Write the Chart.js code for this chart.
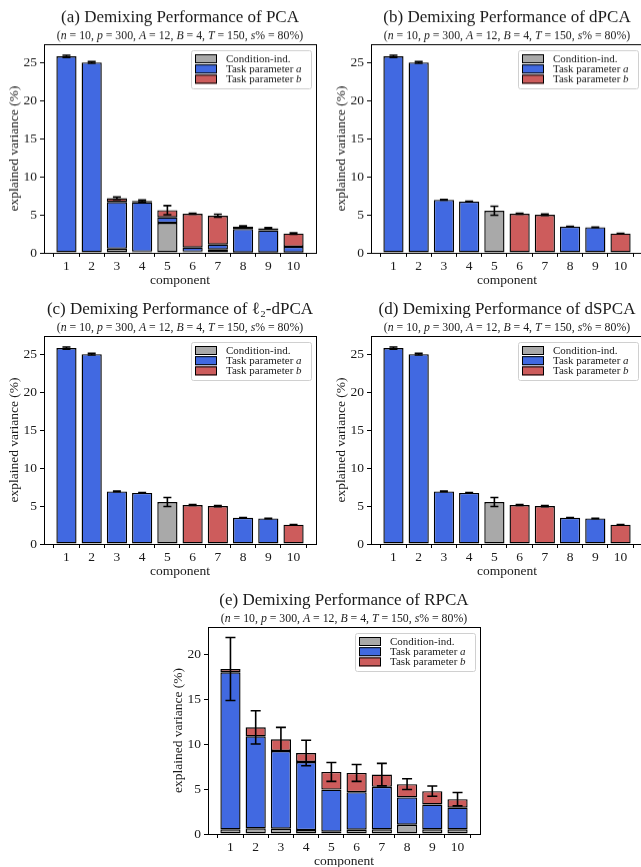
<!DOCTYPE html>
<html>
<head>
<meta charset="utf-8">
<script src="https://cdn.jsdelivr.net/npm/chart.js@4/dist/chart.umd.min.js"></script>
<style>
  html, body { margin: 0; padding: 0; background: #fff; }
  body { width: 641px; height: 867px; overflow: hidden; position: relative; }
  canvas { position: absolute; }
</style>
</head>
<body>
<script>
// ---- shared axis values ----
const components = [1, 2, 3, 4, 5, 6, 7, 8, 9, 10];
const yTicksTop = [0, 5, 10, 15, 20, 25];
const yTicksRpca = [0, 5, 10, 15, 20];
const legendLabels = [['Condition-ind.', ''], ['Task parameter ', 'a'], ['Task parameter ', 'b']];

// ---- (a) PCA: explained variance per marginalization (%) ----
const pcaCond = [0, 0, 0.55, 0.15, 3.96, 0.15, 0.44, 0.03, 0.03, 0.03];
const pcaTaskA = [25.9, 25.1, 6.15, 6.5, 0.71, 0.55, 0.66, 3.12, 2.93, 0.77];
const pcaTaskB = [0, 0, 0.5, 0.2, 0.96, 4.45, 3.79, 0.33, 0.28, 1.75];
const pcaErr = [0.15, 0.12, 0.15, 0.12, 0.6, 0.05, 0.2, 0.08, 0.08, 0.1];

// ---- (b) dPCA ----
const dpcaCond = [0, 0, 0, 0, 5.55, 0, 0, 0, 0, 0];
const dpcaTaskA = [25.9, 25.1, 6.98, 6.75, 0, 0, 0, 3.47, 3.38, 0];
const dpcaTaskB = [0, 0, 0, 0, 0, 5.15, 5.02, 0, 0, 2.55];
const dpcaErr = [0.15, 0.12, 0.04, 0.04, 0.6, 0.05, 0.1, 0.03, 0.03, 0.03];

// ---- (c) l2-dPCA ----
const l2dpcaCond = [0, 0, 0, 0, 5.55, 0, 0, 0, 0, 0];
const l2dpcaTaskA = [25.9, 25.1, 6.95, 6.75, 0, 0, 0, 3.47, 3.38, 0];
const l2dpcaTaskB = [0, 0, 0, 0, 0, 5.15, 5.02, 0, 0, 2.55];
const l2dpcaErr = [0.15, 0.12, 0.04, 0.04, 0.6, 0.05, 0.08, 0.03, 0.03, 0.03];

// ---- (d) dSPCA ----
const dspcaCond = [0, 0, 0, 0, 5.55, 0, 0, 0, 0, 0];
const dspcaTaskA = [25.9, 25.1, 6.95, 6.75, 0, 0, 0, 3.47, 3.38, 0];
const dspcaTaskB = [0, 0, 0, 0, 0, 5.15, 5.02, 0, 0, 2.55];
const dspcaErr = [0.15, 0.12, 0.04, 0.04, 0.6, 0.05, 0.08, 0.03, 0.03, 0.03];

// ---- (e) RPCA ----
const rpcaCond = [0.52, 0.63, 0.59, 0.44, 0.26, 0.48, 0.52, 1.03, 0.52, 0.52];
const rpcaTaskA = [17.45, 10.22, 8.63, 7.56, 4.68, 4.17, 4.72, 3.03, 2.76, 2.4];
const rpcaTaskB = [0.37, 1.0, 1.3, 1.0, 1.96, 2.14, 1.36, 1.48, 1.48, 0.95];
const rpcaErr = [3.5, 1.85, 1.33, 1.42, 1.05, 0.94, 1.25, 0.6, 0.57, 0.74];

// ---- styling ----
const GRAY = '#a9a9a9';
const BLUE = '#4169e1';
const RED = '#cd5c5c';
const INK = '#1a1a1a';
const SERIF = '"Liberation Serif", "Times New Roman", serif';

// Subtitle pieces: [text, italic?]
const subtitleParts = [
  ['(', false], ['n', true], [' = 10, ', false], ['p', true], [' = 300, ', false],
  ['A', true], [' = 12, ', false], ['B', true], [' = 4, ', false],
  ['T', true], [' = 150, ', false], ['s', true], ['% = 80%)', false]
];

function drawRich(ctx, parts, cx, cy, size) {
  ctx.save();
  ctx.textBaseline = 'middle';
  ctx.textAlign = 'left';
  let total = 0;
  const widths = parts.map(([t, it]) => {
    ctx.font = (it ? 'italic ' : '') + size + 'px ' + SERIF;
    const w = ctx.measureText(t).width;
    total += w;
    return w;
  });
  let x = cx - total / 2;
  parts.forEach(([t, it], i) => {
    ctx.font = (it ? 'italic ' : '') + size + 'px ' + SERIF;
    ctx.fillText(t, x, cy);
    x += widths[i];
  });
  ctx.restore();
}

// Axes frame, error bars, legend and titles
const decorations = {
  id: 'decorations',
  afterDatasetsDraw(chart, args, opts) {
    const {ctx, chartArea: ca, scales: {x, y}} = chart;
    const ds = chart.data.datasets;
    // error bars at the top of each stack
    ctx.save();
    ctx.strokeStyle = '#000';
    ctx.lineWidth = 1.6;
    components.forEach((c, i) => {
      const total = ds.reduce((s, d) => s + (d.data[i].y || 0), 0);
      const e = opts.err[i];
      const px = x.getPixelForValue(c);
      const y1 = y.getPixelForValue(total + e);
      const y0 = y.getPixelForValue(total - e);
      const cap = opts.cap;
      ctx.beginPath();
      ctx.moveTo(px, y0); ctx.lineTo(px, y1);
      ctx.moveTo(px - cap / 2, y1); ctx.lineTo(px + cap / 2, y1);
      ctx.moveTo(px - cap / 2, y0); ctx.lineTo(px + cap / 2, y0);
      ctx.stroke();
    });
    ctx.restore();

    // frame
    ctx.save();
    ctx.strokeStyle = '#000';
    ctx.lineWidth = 1;
    ctx.strokeRect(Math.round(ca.left) + 0.5, Math.round(ca.top) + 0.5,
      Math.round(ca.right - ca.left), Math.round(ca.bottom - ca.top));
    ctx.restore();

    // legend
    const lw = 120, lh = 38;
    const lx = ca.right - 5 - lw, ly = ca.top + 6;
    ctx.save();
    ctx.fillStyle = 'rgba(255,255,255,0.85)';
    ctx.strokeStyle = '#d0d0d0';
    ctx.lineWidth = 1;
    ctx.beginPath();
    ctx.roundRect(lx + 0.5, ly + 0.5, lw, lh, 2);
    ctx.fill();
    ctx.stroke();
    const colors = [GRAY, BLUE, RED];
    legendLabels.forEach(([t, it], k) => {
      const ry = ly + 4 + k * 10.2;
      ctx.fillStyle = colors[k];
      ctx.fillRect(lx + 4, ry, 22, 9);
      ctx.strokeStyle = '#000';
      ctx.strokeRect(lx + 4.5, ry + 0.5, 21, 8);
      ctx.fillStyle = INK;
      ctx.textBaseline = 'middle';
      ctx.textAlign = 'left';
      ctx.font = '11px ' + SERIF;
      ctx.fillText(t, lx + 35, ry + 5);
      if (it) {
        const w = ctx.measureText(t).width;
        ctx.font = 'italic 11px ' + SERIF;
        ctx.fillText(it, lx + 35 + w, ry + 5);
      }
    });
    ctx.restore();

    // titles
    const cx = (ca.left + ca.right) / 2;
    ctx.save();
    ctx.fillStyle = INK;
    ctx.textAlign = 'center';
    ctx.textBaseline = 'middle';
    ctx.font = '17px ' + SERIF;
    ctx.fillText(opts.title, cx, ca.top - 26);
    ctx.restore();
    ctx.save();
    ctx.fillStyle = INK;
    drawRich(ctx, subtitleParts, cx, ca.top - 8, 11.8);
    ctx.restore();
  }
};

const PAD_L = 44, PAD_T = 48, PAD_B = 42, PAD_R = 4;

function makePanel(p) {
  const W = p.w + PAD_L + PAD_R, H = p.h + PAD_T + PAD_B;
  const cv = document.createElement('canvas');
  cv.width = W; cv.height = H;
  cv.style.width = W + 'px'; cv.style.height = H + 'px';
  cv.style.left = (p.x - PAD_L) + 'px';
  cv.style.top = (p.y - PAD_T) + 'px';
  document.body.appendChild(cv);

  const series = (vals) => components.map((c, i) => ({x: c, y: vals[i]}));
  const barStyle = {borderColor: '#000', borderWidth: 1.4, borderSkipped: false,
    categoryPercentage: 1, barPercentage: 0.8};
  const tickFont = {family: SERIF, size: 13.5};

  new Chart(cv, {
    type: 'bar',
    data: {
      datasets: [
        Object.assign({label: 'Condition-ind.', data: series(p.cond), backgroundColor: GRAY}, barStyle),
        Object.assign({label: 'Task parameter a', data: series(p.a), backgroundColor: BLUE}, barStyle),
        Object.assign({label: 'Task parameter b', data: series(p.b), backgroundColor: RED}, barStyle)
      ]
    },
    options: {
      responsive: false,
      animation: false,
      devicePixelRatio: 1,
      layout: {padding: {top: PAD_T, right: PAD_R, left: 0, bottom: 0}},
      plugins: {
        legend: {display: false},
        tooltip: {enabled: false},
        decorations: {err: p.err, cap: p.cap, title: p.title}
      },
      scales: {
        x: {
          type: 'linear', min: 0.11, max: 10.89, stacked: true, offset: false,
          afterBuildTicks: (s) => { s.ticks = components.map(v => ({value: v})); },
          afterFit: (s) => { s.height = PAD_B; },
          ticks: {font: tickFont, color: INK, padding: 1, maxRotation: 0, autoSkip: false,
            callback: (v) => String(v)},
          grid: {drawOnChartArea: false, drawTicks: true, tickLength: 4, color: '#000', tickWidth: 1},
          border: {display: false},
          title: {display: true, text: 'component', font: tickFont, color: INK, padding: {top: 0, bottom: 6}}
        },
        y: {
          min: 0, max: p.ymax, stacked: true,
          afterBuildTicks: (s) => { s.ticks = p.yTicks.map(v => ({value: v})); },
          afterFit: (s) => { s.width = PAD_L; },
          ticks: {font: tickFont, color: INK, padding: 3},
          grid: {drawOnChartArea: false, drawTicks: true, tickLength: 4, color: '#000', tickWidth: 1},
          border: {display: false},
          title: {display: true, text: 'explained variance (%)', font: tickFont, color: INK, padding: {top: 6, bottom: 0}}
        }
      }
    },
    plugins: [decorations]
  });
}

const panels = [
  {title: '(a) Demixing Performance of PCA', x: 44, y: 44.3, w: 272, h: 208.4, ymax: 27.5, yTicks: yTicksTop,
    cond: pcaCond, a: pcaTaskA, b: pcaTaskB, err: pcaErr, cap: 8},
  {title: '(b) Demixing Performance of dPCA', x: 370.7, y: 44.3, w: 272, h: 208.4, ymax: 27.5, yTicks: yTicksTop,
    cond: dpcaCond, a: dpcaTaskA, b: dpcaTaskB, err: dpcaErr, cap: 8},
  {title: '(c) Demixing Performance of \u2113\u2082-dPCA', x: 44, y: 335.5, w: 272, h: 208.2, ymax: 27.5, yTicks: yTicksTop,
    cond: l2dpcaCond, a: l2dpcaTaskA, b: l2dpcaTaskB, err: l2dpcaErr, cap: 8},
  {title: '(d) Demixing Performance of dSPCA', x: 370.7, y: 335.5, w: 272, h: 208.2, ymax: 27.5, yTicks: yTicksTop,
    cond: dspcaCond, a: dspcaTaskA, b: dspcaTaskB, err: dspcaErr, cap: 8},
  {title: '(e) Demixing Performance of RPCA', x: 207.5, y: 626.7, w: 272, h: 207.6, ymax: 23.0, yTicks: yTicksRpca,
    cond: rpcaCond, a: rpcaTaskA, b: rpcaTaskB, err: rpcaErr, cap: 10}
];

panels.forEach(makePanel);
</script>
</body>
</html>
